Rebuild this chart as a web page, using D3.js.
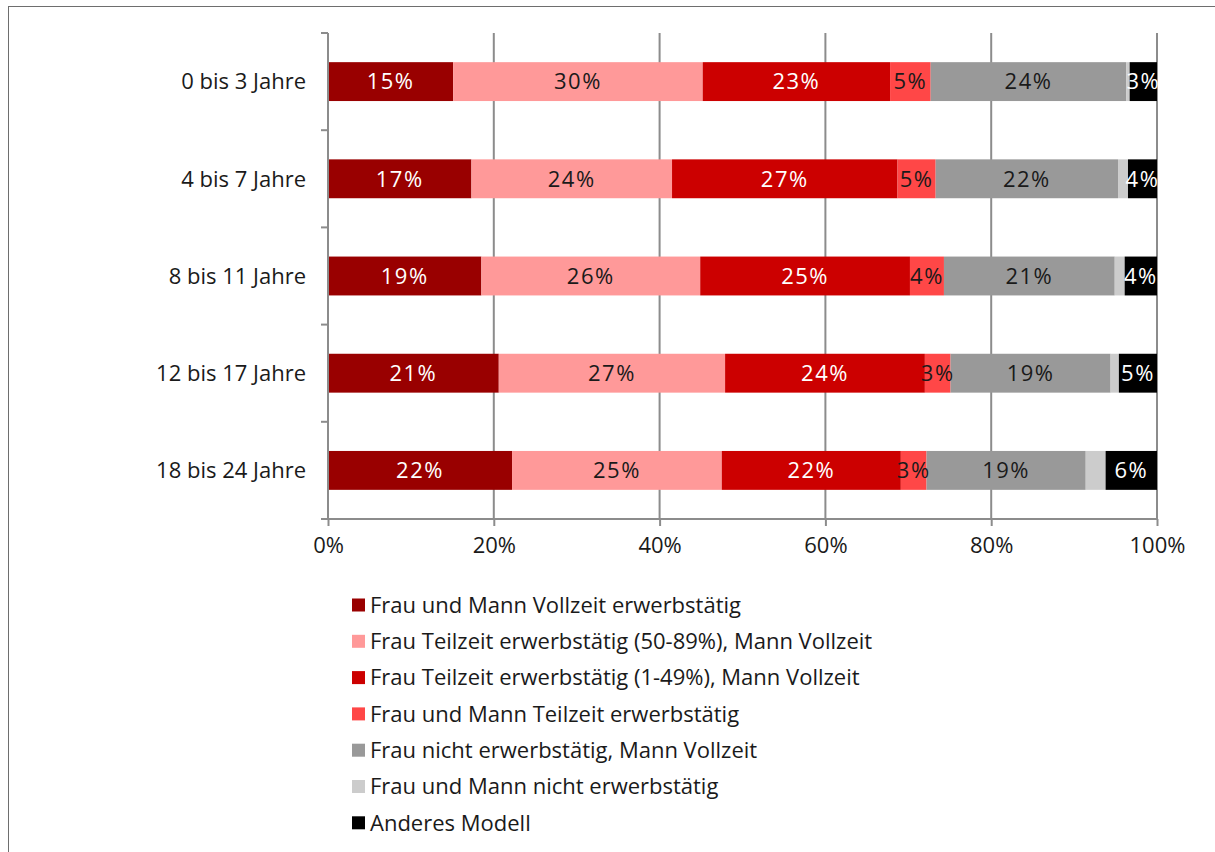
<!DOCTYPE html>
<html>
<head>
<meta charset="utf-8">
<script src="https://cdn.jsdelivr.net/npm/d3@7"></script>
<style>
  html, body { margin: 0; padding: 0; background: #fff; }
  svg { display: block; }
  text { font-family: "Open Sans", "Noto Sans", sans-serif; fill: #1a1a1a; }
</style>
</head>
<body>
<svg id="chart" width="1215" height="852"></svg>
<script>
// Age groups of the youngest child
const categories = ["0 bis 3 Jahre", "4 bis 7 Jahre", "8 bis 11 Jahre", "12 bis 17 Jahre", "18 bis 24 Jahre"];

// Employment models (stack order, left to right)
const seriesNames = [
  "Frau und Mann Vollzeit erwerbstätig",
  "Frau Teilzeit erwerbstätig (50-89%), Mann Vollzeit",
  "Frau Teilzeit erwerbstätig (1-49%), Mann Vollzeit",
  "Frau und Mann Teilzeit erwerbstätig",
  "Frau nicht erwerbstätig, Mann Vollzeit",
  "Frau und Mann nicht erwerbstätig",
  "Anderes Modell"
];
const seriesColors = ["#990000", "#ff9999", "#cc0000", "#ff4747", "#999999", "#cccccc", "#000000"];
const labelColors  = ["#ffffff", "#1a1a1a", "#ffffff", "#1a1a1a", "#1a1a1a", null, "#ffffff"];

// Shares in percent, one array per employment model, in category order
const vollzeitBeide   = [15.1, 17.3, 18.5, 20.6, 22.2];
const teilzeit5089    = [30.1, 24.2, 26.4, 27.3, 25.3];
const teilzeit149     = [22.6, 27.2, 25.3, 24.1, 21.6];
const teilzeitBeide   = [4.9, 4.6, 4.1, 3.1, 3.1];
const frauNicht       = [23.6, 22.0, 20.6, 19.3, 19.2];
const beideNicht      = [0.4, 1.2, 1.2, 1.0, 2.4];
const anderesModell   = [3.3, 3.5, 3.9, 4.6, 6.2];

const seriesValues = [vollzeitBeide, teilzeit5089, teilzeit149, teilzeitBeide, frauNicht, beideNicht, anderesModell];

const xTicks = [0, 20, 40, 60, 80, 100];

const fontSize = "22px";

// Build table for d3.stack
const keys = seriesNames;
const table = categories.map((c, i) => {
  const row = { cat: c };
  keys.forEach((k, j) => row[k] = seriesValues[j][i]);
  return row;
});
const stacked = d3.stack().keys(keys)(table);

const svg = d3.select("#chart");

// outer frame
svg.append("rect")
  .attr("x", 8.5).attr("y", 6.5)
  .attr("width", 1220).attr("height", 860)
  .attr("fill", "none").attr("stroke", "#6e6e6e").attr("stroke-width", 1);

const plot = { left: 328, right: 1157, top: 33, bottom: 519 };

const x = d3.scaleLinear().domain([0, 100]).range([plot.left, plot.right]);
const y = d3.scaleBand().domain(categories).range([plot.top, plot.bottom])
  .paddingInner(0.6).paddingOuter(0.3);

const axisColor = "#8c8c8c";

// vertical gridlines
svg.append("g").selectAll("line")
  .data(xTicks.filter(t => t > 0))
  .join("line")
  .attr("x1", d => x(d)).attr("x2", d => x(d))
  .attr("y1", plot.top).attr("y2", plot.bottom)
  .attr("stroke", axisColor).attr("stroke-width", 2);

// bars
const layers = svg.append("g").selectAll("g")
  .data(stacked)
  .join("g")
  .attr("fill", (d, i) => seriesColors[i]);

layers.selectAll("rect")
  .data(d => d)
  .join("rect")
  .attr("x", d => x(d[0]))
  .attr("width", d => x(d[1]) - x(d[0]))
  .attr("y", d => y(d.data.cat))
  .attr("height", y.bandwidth());

// value labels
stacked.forEach((layer, i) => {
  if (!labelColors[i]) return;
  svg.append("g").selectAll("text")
    .data(layer)
    .join("text")
    .attr("x", d => (x(d[0]) + x(d[1])) / 2)
    .attr("y", d => y(d.data.cat) + y.bandwidth() / 2)
    .attr("dy", "0.35em")
    .attr("text-anchor", "middle")
    .style("font-size", fontSize)
    .style("letter-spacing", "1.5px")
    .style("fill", labelColors[i])
    .text(d => Math.round(d[1] - d[0]) + "%");
});

// y axis (category axis) on the left
const yAxis = svg.append("g")
  .attr("transform", `translate(${plot.left},0)`);
yAxis.append("line")
  .attr("x1", 0).attr("x2", 0)
  .attr("y1", plot.top).attr("y2", plot.bottom)
  .attr("stroke", axisColor).attr("stroke-width", 2);
const bandEdges = d3.range(categories.length + 1).map(i => plot.top + i * (plot.bottom - plot.top) / categories.length);
yAxis.selectAll("line.tick")
  .data(bandEdges)
  .join("line")
  .attr("class", "tick")
  .attr("x1", -7).attr("x2", 0)
  .attr("y1", d => d).attr("y2", d => d)
  .attr("stroke", axisColor).attr("stroke-width", 2);
yAxis.selectAll("text")
  .data(categories)
  .join("text")
  .attr("x", -22)
  .attr("y", d => y(d) + y.bandwidth() / 2)
  .attr("dy", "0.35em")
  .attr("text-anchor", "end")
  .style("font-size", fontSize)
  .text(d => d);

// x axis at the bottom
const xAxis = d3.axisBottom(x)
  .tickValues(xTicks)
  .tickFormat(d => d + "%")
  .tickSize(7)
  .tickPadding(11);
const gx = svg.append("g")
  .attr("transform", `translate(0,${plot.bottom})`)
  .call(xAxis);
gx.select(".domain").remove();
gx.append("line")
  .attr("x1", plot.left - 7).attr("x2", plot.right)
  .attr("y1", 0).attr("y2", 0)
  .attr("stroke", axisColor).attr("stroke-width", 2);
gx.selectAll(".tick line").attr("stroke", axisColor).attr("stroke-width", 2);
gx.selectAll(".tick text")
  .style("font-size", fontSize)
  .style("font-family", "'Open Sans', 'Noto Sans', sans-serif")
  .attr("fill", "#1a1a1a");

// legend
const legend = svg.append("g").attr("transform", "translate(352,605)");
const legendRows = legend.selectAll("g")
  .data(seriesNames)
  .join("g")
  .attr("transform", (d, i) => `translate(0,${i * 36.3})`);
legendRows.append("rect")
  .attr("x", 0).attr("y", -6.5)
  .attr("width", 13).attr("height", 13)
  .attr("fill", (d, i) => seriesColors[i]);
legendRows.append("text")
  .attr("x", 18).attr("y", 0)
  .attr("dy", "0.35em")
  .style("font-size", fontSize)
  .text(d => d);
</script>
</body>
</html>
